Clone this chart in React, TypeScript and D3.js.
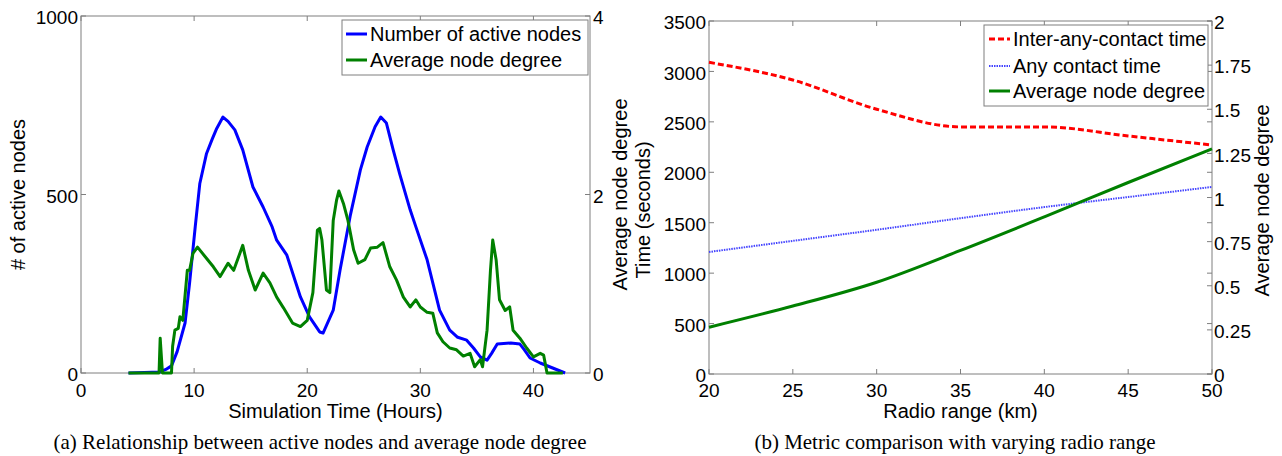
import React from "react";
import * as d3 from "d3";

// ---------- Data: panel (a) ----------
const hoursActive = [4.2, 7.0, 7.5, 8.0, 8.5, 9.2, 9.6, 10.1, 10.5, 11.1, 11.6, 12.0, 12.55, 13.0, 13.6, 14.3, 15.2, 16.1, 16.9, 17.3, 18.2, 19.4, 20.2, 21.1, 21.4, 22.3, 22.9, 23.8, 24.7, 25.3, 26.0, 26.5, 27.0, 27.6, 28.2, 29.1, 29.6, 30.6, 31.7, 32.6, 33.3, 34.1, 34.7, 35.3, 35.9, 36.3, 36.8, 38.0, 38.8, 39.2, 39.7, 40.6, 41.7, 42.8];
const activeNodes = [0, 3, 10, 20, 60, 140, 252, 410, 530, 615, 655, 685, 717, 705, 681, 625, 521, 465, 409, 372, 330, 213, 157, 115, 112, 176, 288, 440, 569, 633, 690, 717, 700, 625, 555, 457, 410, 317, 176, 120, 100, 92, 70, 45, 36, 55, 81, 84, 81, 65, 42, 28, 14, 0];

const hoursDegree = [4.2, 6.9, 7.0, 7.15, 7.2, 8.0, 8.1, 8.3, 8.6, 8.75, 9.0, 9.4, 9.6, 9.9, 10.3, 11.0, 11.7, 12.3, 13.0, 13.5, 14.3, 14.8, 15.4, 16.1, 16.7, 17.3, 17.9, 18.7, 19.4, 20.0, 20.5, 20.9, 21.1, 21.3, 21.7, 22.0, 22.3, 22.6, 22.8, 23.2, 23.6, 24.1, 24.5, 25.1, 25.6, 26.2, 26.7, 27.3, 27.9, 28.5, 29.1, 29.6, 30.0, 30.6, 31.1, 31.5, 32.0, 32.6, 33.2, 33.8, 34.4, 34.8, 35.3, 35.5, 35.9, 36.2, 36.4, 36.7, 37.0, 37.5, 37.9, 38.2, 38.8, 39.4, 40.0, 40.6, 40.9, 41.2, 42.6];
const avgDegree = [0, 0, 0.39, 0.1, 0, 0, 0.3, 0.48, 0.5, 0.63, 0.59, 1.15, 1.15, 1.34, 1.41, 1.3, 1.19, 1.08, 1.23, 1.15, 1.43, 1.15, 0.93, 1.12, 1.01, 0.85, 0.73, 0.56, 0.52, 0.59, 0.9, 1.6, 1.62, 1.49, 0.93, 0.9, 1.71, 1.94, 2.04, 1.9, 1.71, 1.38, 1.23, 1.27, 1.4, 1.41, 1.46, 1.19, 1.04, 0.85, 0.74, 0.82, 0.74, 0.68, 0.67, 0.45, 0.35, 0.28, 0.26, 0.19, 0.22, 0.07, 0.15, 0.07, 0.48, 1.15, 1.49, 1.27, 0.82, 0.7, 0.74, 0.48, 0.39, 0.28, 0.18, 0.22, 0.2, 0, 0];

const ticksAX = [0, 10, 20, 30, 40];
const ticksAYL = [0, 500, 1000];
const ticksAYR = [0, 2, 4];

// ---------- Data: panel (b) ----------
const radioRange = [20, 25, 30, 35, 40, 45, 50];
const interAnyContact = [3090, 2915, 2625, 2450, 2450, 2360, 2270];
const anyContact = [1210, 1320, 1430, 1545, 1655, 1755, 1855];
const avgDegreeRadio = [0.265, 0.385, 0.52, 0.7, 0.89, 1.085, 1.275];

const ticksBX = [20, 25, 30, 35, 40, 45, 50];
const ticksBYL = [0, 500, 1000, 1500, 2000, 2500, 3000, 3500];
const ticksBYR = [0, 0.25, 0.5, 0.75, 1, 1.25, 1.5, 1.75, 2];
const ticksBYRLabels = ["0", "0.25", "0.5", "0.75", "1", "1.25", "1.5", "1.75", "2"];

const SANS = "'Liberation Sans', Arial, Helvetica, sans-serif";
const SERIF = "'Liberation Serif', 'Times New Roman', serif";
const AXIS = "#7f7f7f";
const TICK = 5;

export default function App() {
  // Panel (a) geometry
  const aL = 81, aR = 590, aT = 16, aB = 373;
  const xA = d3.scaleLinear().domain([0, 45]).range([aL, aR]);
  const yAL = d3.scaleLinear().domain([0, 1000]).range([aB, aT]);
  const yAR = d3.scaleLinear().domain([0, 4]).range([aB, aT]);

  // Panel (b) geometry
  const bL = 709, bR = 1212, bT = 21, bB = 374;
  const xB = d3.scaleLinear().domain([20, 50]).range([bL, bR]);
  const yBL = d3.scaleLinear().domain([0, 3500]).range([bB, bT]);
  const yBR = d3.scaleLinear().domain([0, 2]).range([bB, bT]);

  const lineActive = d3.line<number>().x((_, i) => xA(hoursActive[i])).y((d) => yAL(d));
  const lineDegree = d3.line<number>().x((_, i) => xA(hoursDegree[i])).y((d) => yAR(d));

  const lineInter = d3.line<number>().x((_, i) => xB(radioRange[i])).y((d) => yBL(d)).curve(d3.curveMonotoneX);
  const lineAny = d3.line<number>().x((_, i) => xB(radioRange[i])).y((d) => yBL(d)).curve(d3.curveMonotoneX);
  const lineDegB = d3.line<number>().x((_, i) => xB(radioRange[i])).y((d) => yBR(d)).curve(d3.curveMonotoneX);

  const tickFont = 19;
  const labelFont = 20;
  const captionFont = 21;

  return (
    <svg width={1282} height={456} style={{ position: "absolute", left: 0, top: 0, background: "#fff" }} fontFamily={SANS}>
      <rect x={0} y={0} width={1282} height={456} fill="#fff" />

      {/* ================= Panel (a) ================= */}
      <g>
        <rect x={aL} y={aT} width={aR - aL} height={aB - aT} fill="none" stroke={AXIS} strokeWidth={1} />
        {ticksAX.map((t) => (
          <g key={"ax" + t}>
            <line x1={xA(t)} x2={xA(t)} y1={aB} y2={aB - TICK} stroke={AXIS} />
            <line x1={xA(t)} x2={xA(t)} y1={aT} y2={aT + TICK} stroke={AXIS} />
            <text x={xA(t)} y={397} fontSize={tickFont} textAnchor="middle" fill="#000">{t}</text>
          </g>
        ))}
        {ticksAYL.map((t) => (
          <g key={"ayl" + t}>
            <line x1={aL} x2={aL + TICK} y1={yAL(t)} y2={yAL(t)} stroke={AXIS} />
            <text x={aL - 3} y={yAL(t) + 1.5} dy="0.35em" fontSize={tickFont} textAnchor="end" fill="#000">{t}</text>
          </g>
        ))}
        {ticksAYR.map((t) => (
          <g key={"ayr" + t}>
            <line x1={aR} x2={aR - TICK} y1={yAR(t)} y2={yAR(t)} stroke={AXIS} />
            <text x={aR + 3} y={yAR(t) + 1.5} dy="0.35em" fontSize={tickFont} textAnchor="start" fill="#000">{t}</text>
          </g>
        ))}

        <path d={lineActive(activeNodes) || ""} fill="none" stroke="#0000ff" strokeWidth={3} strokeLinejoin="round" />
        <path d={lineDegree(avgDegree) || ""} fill="none" stroke="#008000" strokeWidth={3} strokeLinejoin="round" />

        {/* legend */}
        <rect x={342} y={20} width={246} height={55} fill="#fff" stroke={AXIS} strokeWidth={1} />
        <line x1={346} x2={367} y1={34} y2={34} stroke="#0000ff" strokeWidth={3} />
        <text x={370} y={41} fontSize={labelFont} fill="#000">Number of active nodes</text>
        <line x1={346} x2={367} y1={60} y2={60} stroke="#008000" strokeWidth={3} />
        <text x={370} y={67} fontSize={labelFont} fill="#000">Average node degree</text>

        <text x={(aL + aR) / 2} y={418} fontSize={labelFont} textAnchor="middle" fill="#000">Simulation Time (Hours)</text>
        <text transform={`translate(25,${(aT + aB) / 2}) rotate(-90)`} fontSize={labelFont} textAnchor="middle" fill="#000"># of active nodes</text>
        <text transform={`translate(627,${(aT + aB) / 2}) rotate(-90)`} fontSize={labelFont} textAnchor="middle" fill="#000">Average node degree</text>

        <text x={320} y={449} fontSize={captionFont} fontFamily={SERIF} textAnchor="middle" fill="#000">(a) Relationship between active nodes and average node degree</text>
      </g>

      {/* ================= Panel (b) ================= */}
      <g>
        <rect x={bL} y={bT} width={bR - bL} height={bB - bT} fill="none" stroke={AXIS} strokeWidth={1} />
        {ticksBX.map((t) => (
          <g key={"bx" + t}>
            <line x1={xB(t)} x2={xB(t)} y1={bB} y2={bB - TICK} stroke={AXIS} />
            <line x1={xB(t)} x2={xB(t)} y1={bT} y2={bT + TICK} stroke={AXIS} />
            <text x={xB(t)} y={397} fontSize={tickFont} textAnchor="middle" fill="#000">{t}</text>
          </g>
        ))}
        {ticksBYL.map((t) => (
          <g key={"byl" + t}>
            <line x1={bL} x2={bL + TICK} y1={yBL(t)} y2={yBL(t)} stroke={AXIS} />
            <line x1={bR} x2={bR - TICK} y1={yBL(t)} y2={yBL(t)} stroke={AXIS} />
            <text x={bL - 3} y={yBL(t) + 1.5} dy="0.35em" fontSize={tickFont} textAnchor="end" fill="#000">{t}</text>
          </g>
        ))}
        {ticksBYR.map((t, i) => (
          <g key={"byr" + t}>
            <line x1={bR} x2={bR - TICK} y1={yBR(t)} y2={yBR(t)} stroke={AXIS} />
            <text x={bR + 2} y={yBR(t) + 1.5} dy="0.35em" fontSize={tickFont} textAnchor="start" fill="#000">{ticksBYRLabels[i]}</text>
          </g>
        ))}

        <path d={lineAny(anyContact) || ""} fill="none" stroke="#4444ff" strokeWidth={2} strokeDasharray="1.5,1" />
        <path d={lineDegB(avgDegreeRadio) || ""} fill="none" stroke="#008000" strokeWidth={3} />
        <path d={lineInter(interAnyContact) || ""} fill="none" stroke="#ff0000" strokeWidth={3} strokeDasharray="6,3" />

        {/* legend */}
        <rect x={984} y={25} width={224} height={81} fill="#fff" stroke={AXIS} strokeWidth={1} />
        <line x1={989} x2={1010} y1={39} y2={39} stroke="#ff0000" strokeWidth={3} strokeDasharray="6,3" />
        <text x={1013} y={46} fontSize={labelFont} fill="#000">Inter-any-contact time</text>
        <line x1={989} x2={1010} y1={66} y2={66} stroke="#4444ff" strokeWidth={2} strokeDasharray="1.5,1" />
        <text x={1013} y={73} fontSize={labelFont} fill="#000">Any contact time</text>
        <line x1={989} x2={1010} y1={91} y2={91} stroke="#008000" strokeWidth={3} />
        <text x={1013} y={98} fontSize={labelFont} fill="#000">Average node degree</text>

        <text x={(bL + bR) / 2} y={418} fontSize={labelFont} textAnchor="middle" fill="#000">Radio range (km)</text>
        <text transform={`translate(650,210) rotate(-90)`} fontSize={labelFont} textAnchor="middle" fill="#000">Time (seconds)</text>
        <text transform={`translate(1269,${(bT + bB) / 2 + 3}) rotate(-90)`} fontSize={labelFont} textAnchor="middle" fill="#000">Average node degree</text>

        <text x={955} y={449} fontSize={captionFont} fontFamily={SERIF} textAnchor="middle" fill="#000">(b) Metric comparison with varying radio range</text>
      </g>
    </svg>
  );
}
